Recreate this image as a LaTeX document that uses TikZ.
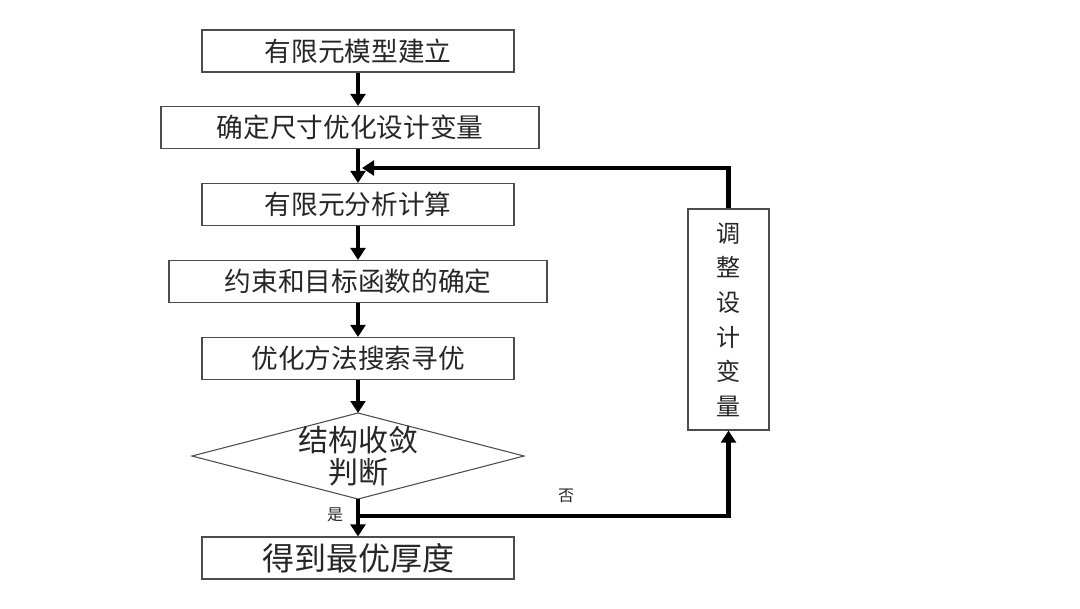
\documentclass[tikz,border=0pt]{standalone}
\usepackage{fontspec}
\setmainfont{Noto Sans CJK SC}
\usetikzlibrary{arrows.meta}

\begin{document}
\begin{tikzpicture}[x=0.75pt,y=-0.75pt,
  box/.style={draw=black!70, line width=0.8pt, text=black!85, inner sep=0pt,
    minimum height=31.5pt, font=\fontsize{20}{24}\selectfont},
  flow/.style={line width=3.2pt, -{Triangle[width=11pt,length=9pt]}},
  tag/.style={text=black!85, font=\fontsize{12}{14}\selectfont}]
\useasboundingbox (0,0) rectangle (1080,608);
\node [box, minimum width=234pt] (model) at (358,51) {有限元模型建立};
\node [box, minimum width=283.5pt] (vars) at (350,127.5) {确定尺寸优化设计变量};
\node [box, minimum width=234pt] (fea) at (358,204.5) {有限元分析计算};
\node [box, minimum width=283.5pt] (goal) at (358,281.5) {约束和目标函数的确定};
\node [box, minimum width=234pt] (search) at (358,358.5) {优化方法搜索寻优};
\path (192,456) coordinate (jl) (358,413) coordinate (jt)
      (524,456) coordinate (jr) (358,499) coordinate (jb);
\draw [draw=black!70, line width=0.8pt] (jl) -- (jt) -- (jr) -- (jb) -- cycle;
\node [align=center, text=black!85, font=\fontsize{22.5}{24}\selectfont] (judge) at (358,456) {结构收敛\\判断};
\node [box, minimum width=234pt, font=\fontsize{24}{28}\selectfont] (result) at (358,558) {得到最优厚度};
\node [box, minimum width=60.75pt, minimum height=165.75pt, align=center,
  font=\fontsize{18}{26}\selectfont] (adjust) at (728.5,319.5) {调\\整\\设\\计\\变\\量};
\coordinate (split) at (358,516);
\coordinate (join) at (362,168);
\draw [flow] (model) -- (model |- vars.north);
\draw [flow] (fea.north |- vars.south) -- (fea);
\draw [flow] (fea) -- (goal);
\draw [flow] (goal) -- (search);
\draw [flow] (search) -- (jt);
\draw [flow] (jb) -- (result);
\draw [flow] (split) -| (adjust);
\draw [flow] (adjust) |- (join);
\node [tag] (yes) at (335,515) {是};
\node [tag] (no) at (566,496) {否};
\end{tikzpicture}
\end{document}
